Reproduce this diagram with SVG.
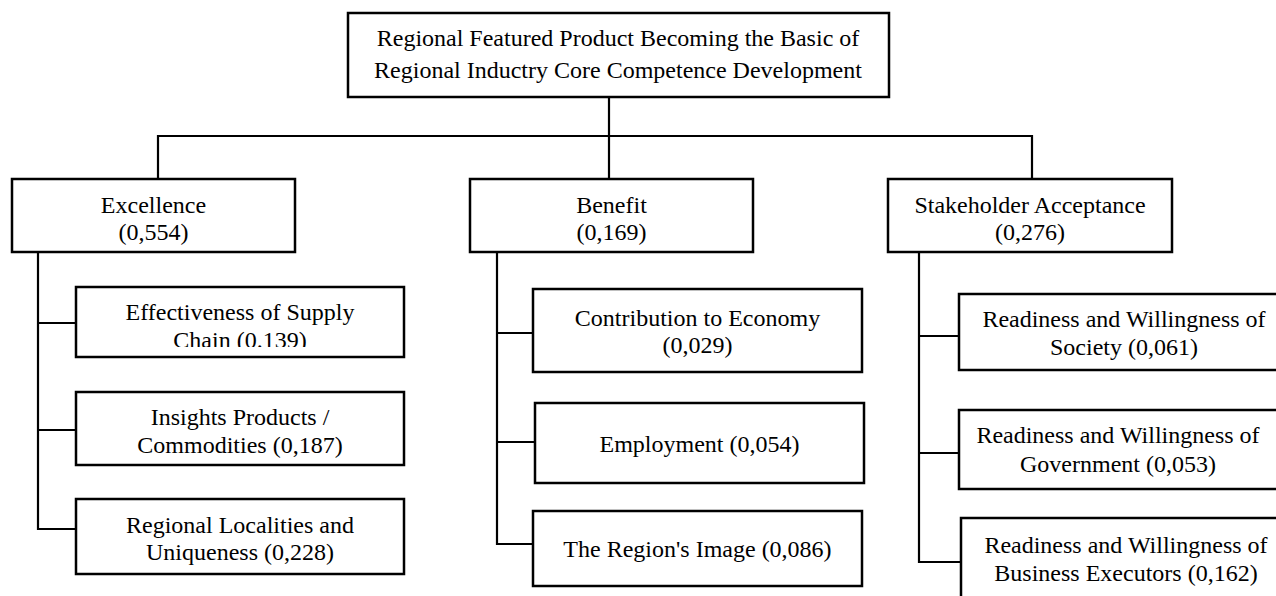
<svg xmlns="http://www.w3.org/2000/svg" width="1276" height="596" viewBox="0 0 1276 596">
<style>
.box{fill:#fff;stroke:#000;stroke-width:2.5}
.ln{fill:none;stroke:#000;stroke-width:2.2}
text{font-family:"Liberation Serif","Times New Roman",serif;font-size:24px;fill:#000;text-anchor:middle}
</style>
<defs>
<clipPath id="clipChain"><rect x="76" y="286" width="328" height="61"/></clipPath>
</defs>
<rect width="1276" height="596" fill="#fff"/>
<g id="connectors">
<path class="ln" d="M609 97 V136 M158 179 V136 H1032 V179 M609 136 V179"/>
<path class="ln" d="M38 252 V529 H76 M38 323 H76 M38 430 H76"/>
<path class="ln" d="M497 252 V544 H533 M497 333 H533 M497 442 H535"/>
<path class="ln" d="M919 252 V562 H961 M919 336 H959 M919 453 H959"/>
</g>
<g id="root">
<rect class="box" x="348" y="13" width="541" height="84"/>
<text x="618" y="46">Regional Featured Product Becoming the Basic of</text>
<text x="618" y="78">Regional Inductry Core Competence Development</text>
</g>
<g id="excellence">
<rect class="box" x="12" y="179" width="283" height="73"/>
<text x="153.5" y="213">Excellence</text>
<text x="153.5" y="240">(0,554)</text>
</g>
<g id="benefit">
<rect class="box" x="470" y="179" width="283" height="73"/>
<text x="611.5" y="213">Benefit</text>
<text x="611.5" y="240">(0,169)</text>
</g>
<g id="stakeholder">
<rect class="box" x="888" y="179" width="284" height="73"/>
<text x="1030" y="213">Stakeholder Acceptance</text>
<text x="1030" y="240">(0,276)</text>
</g>
<g id="supply-chain">
<rect class="box" x="76" y="287" width="328" height="70"/>
<g clip-path="url(#clipChain)">
<text x="240" y="320">Effectiveness of Supply</text>
<text x="240" y="348">Chain (0.139)</text>
</g>
</g>
<g id="insights">
<rect class="box" x="76" y="392" width="328" height="73"/>
<text x="240" y="425">Insights Products /</text>
<text x="240" y="453">Commodities (0,187)</text>
</g>
<g id="localities">
<rect class="box" x="76" y="499" width="328" height="75"/>
<text x="240" y="533">Regional Localities and</text>
<text x="240" y="560">Uniqueness (0,228)</text>
</g>
<g id="economy">
<rect class="box" x="533" y="289" width="329" height="83"/>
<text x="697.5" y="326">Contribution to Economy</text>
<text x="697.5" y="353">(0,029)</text>
</g>
<g id="employment">
<rect class="box" x="535" y="403" width="329" height="80"/>
<text x="699.5" y="452">Employment (0,054)</text>
</g>
<g id="image">
<rect class="box" x="533" y="511" width="329" height="75"/>
<text x="697.5" y="557">The Region's Image (0,086)</text>
</g>
<g id="society">
<rect class="box" x="959" y="294" width="340" height="76"/>
<text x="1124" y="327">Readiness and Willingness of</text>
<text x="1124" y="355">Society (0,061)</text>
</g>
<g id="government">
<rect class="box" x="959" y="410" width="340" height="79"/>
<text x="1118" y="443">Readiness and Willingness of</text>
<text x="1118" y="472">Government (0,053)</text>
</g>
<g id="executors">
<rect class="box" x="961" y="518" width="340" height="100"/>
<text x="1126" y="553">Readiness and Willingness of</text>
<text x="1126" y="581">Business Executors (0,162)</text>
</g>
</svg>
